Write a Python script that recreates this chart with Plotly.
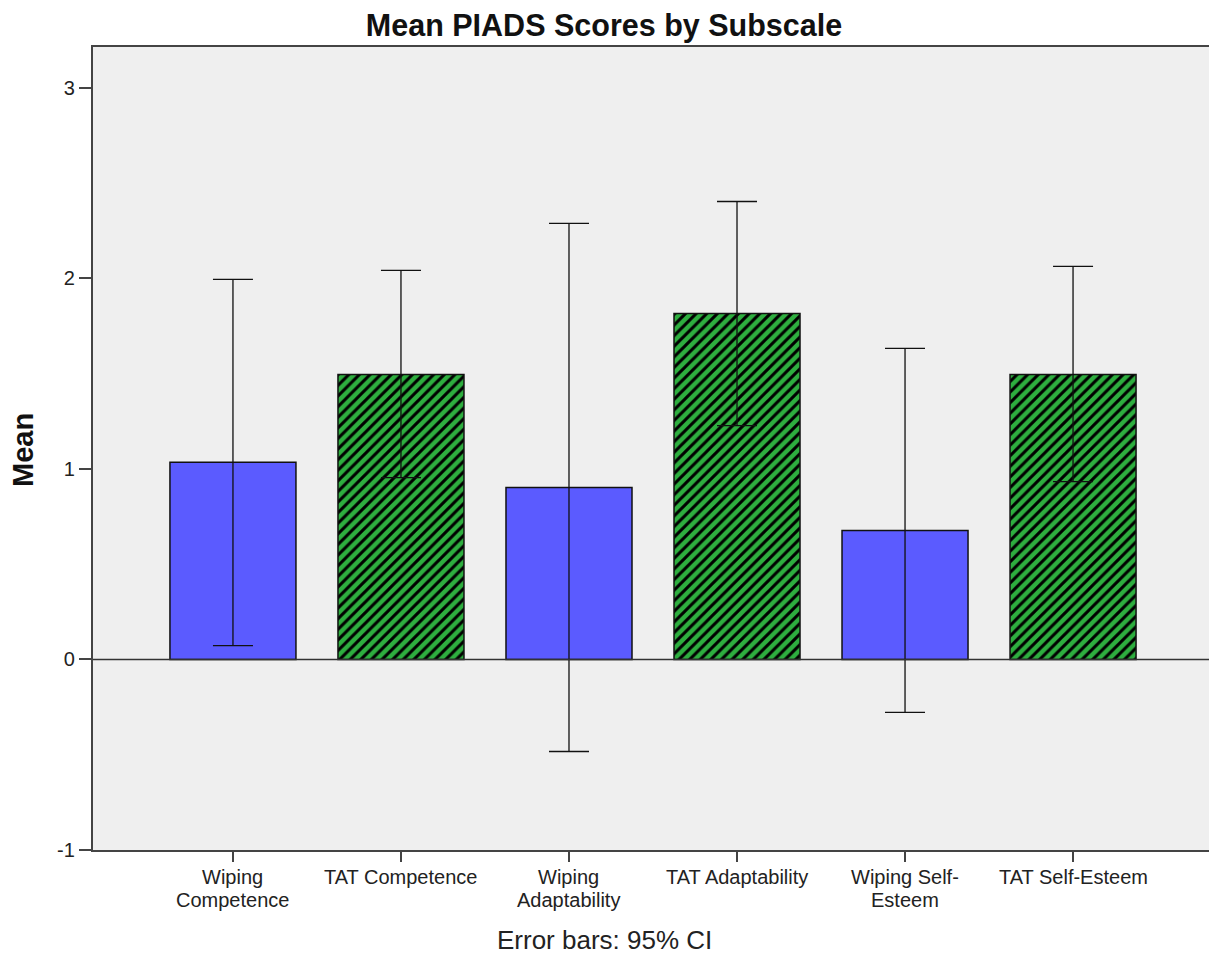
import plotly.graph_objects as go

categories = ["Wiping<br>Competence", "TAT Competence", "Wiping<br>Adaptability",
              "TAT Adaptability", "Wiping Self-<br>Esteem", "TAT Self-Esteem"]
means = [1.035, 1.496, 0.903, 1.816, 0.677, 1.496]
ci_upper = [1.995, 2.042, 2.289, 2.404, 1.633, 2.063]
ci_lower = [0.073, 0.955, -0.483, 1.228, -0.278, 0.934]
groups = ["Wiping", "TAT", "Wiping", "TAT", "Wiping", "TAT"]

x = list(range(len(categories)))

# page body has an 8px margin: figure starts at (8, 8) in the window
W, H = 1217 - 8, 959 - 8
ML, MR, MT, MB = 85, 4, 39, 109
PW, PH = W - ML - MR, H - MT - MB

FONT = "Arial, Liberation Sans, sans-serif"
fig = go.Figure()

for grp, color, shape in [("Wiping", "#5B5BFF", ""), ("TAT", "#2EAE3F", "/")]:
    idx = [i for i, g in enumerate(groups) if g == grp]
    m = [means[i] for i in idx]
    up = [ci_upper[i] - means[i] for i in idx]
    lo = [means[i] - ci_lower[i] for i in idx]
    fig.add_trace(go.Bar(
        x=idx, y=m, width=0.75, name=grp,
        marker=dict(color=color, line=dict(color="#111111", width=1.5),
                    pattern=dict(shape=shape, fgcolor="#000000", fgopacity=1,
                                 size=7.5, solidity=0.4, fillmode="overlay")),
        error_y=dict(type="data", symmetric=False, array=up, arrayminus=lo,
                     color="#111111", thickness=1.3, width=20),
        showlegend=False,
    ))

fig.add_shape(type="line", xref="paper", x0=0, x1=1, yref="y", y0=0, y1=0,
              line=dict(color="#333333", width=1.3), layer="above")

fig.update_layout(
    width=W, height=H, barmode="overlay",
    margin=dict(l=ML, r=MR, t=MT, b=MB),
    paper_bgcolor="white", plot_bgcolor="#EFEFEF",
    font=dict(family=FONT, color="#222222"),
    title=dict(text="<b>Mean PIADS Scores by Subscale</b>", x=(604 - 8) / W, xanchor="center",
               y=1 - 17 / H, yanchor="middle", font=dict(size=30.5, color="#111111")),
)
fig.update_xaxes(
    tickmode="array", tickvals=x, ticktext=[""] * len(x),
    range=[-0.833, 5.833], showgrid=False, zeroline=False, automargin=False,
    showline=True, linecolor="#444444", linewidth=2.2, mirror=True,
    ticks="outside", ticklen=10, tickcolor="#444444", tickwidth=1.5,
)
fig.update_yaxes(
    range=[-1, 3.215], tickvals=[-1, 0, 1, 2, 3], ticktext=["-1", "0", "1", "2", "3"],
    showgrid=False, zeroline=False, automargin=False,
    showline=True, linecolor="#444444", linewidth=2.2, mirror=True,
    ticks="outside", ticklen=12, tickcolor="#444444", tickwidth=1.5,
    tickfont=dict(size=20, color="#222222"),
)

# category labels, one annotation per text line
for xi, label in zip(x, categories):
    for li, line in enumerate(label.split("<br>")):
        fig.add_annotation(text=line, x=xi, xref="x", y=0, yref="paper",
                           xanchor="center", yanchor="middle", yshift=-27 - 22.5 * li,
                           showarrow=False, font=dict(size=20, color="#222222", family=FONT))

fig.add_annotation(text="<b>Mean</b>", xref="paper", yref="paper",
                   x=-(ML - 15) / PW, y=(842 - 442) / PH, xanchor="center", yanchor="middle",
                   textangle=-90, showarrow=False, font=dict(size=29, color="#111111", family=FONT))
fig.add_annotation(text="Error bars: 95% CI", xref="paper", yref="paper",
                   x=(596 - ML) / PW, y=-(932 - 842) / PH, xanchor="center", yanchor="middle",
                   showarrow=False, font=dict(size=26, color="#222222", family=FONT))

fig.write_html("out.html")
